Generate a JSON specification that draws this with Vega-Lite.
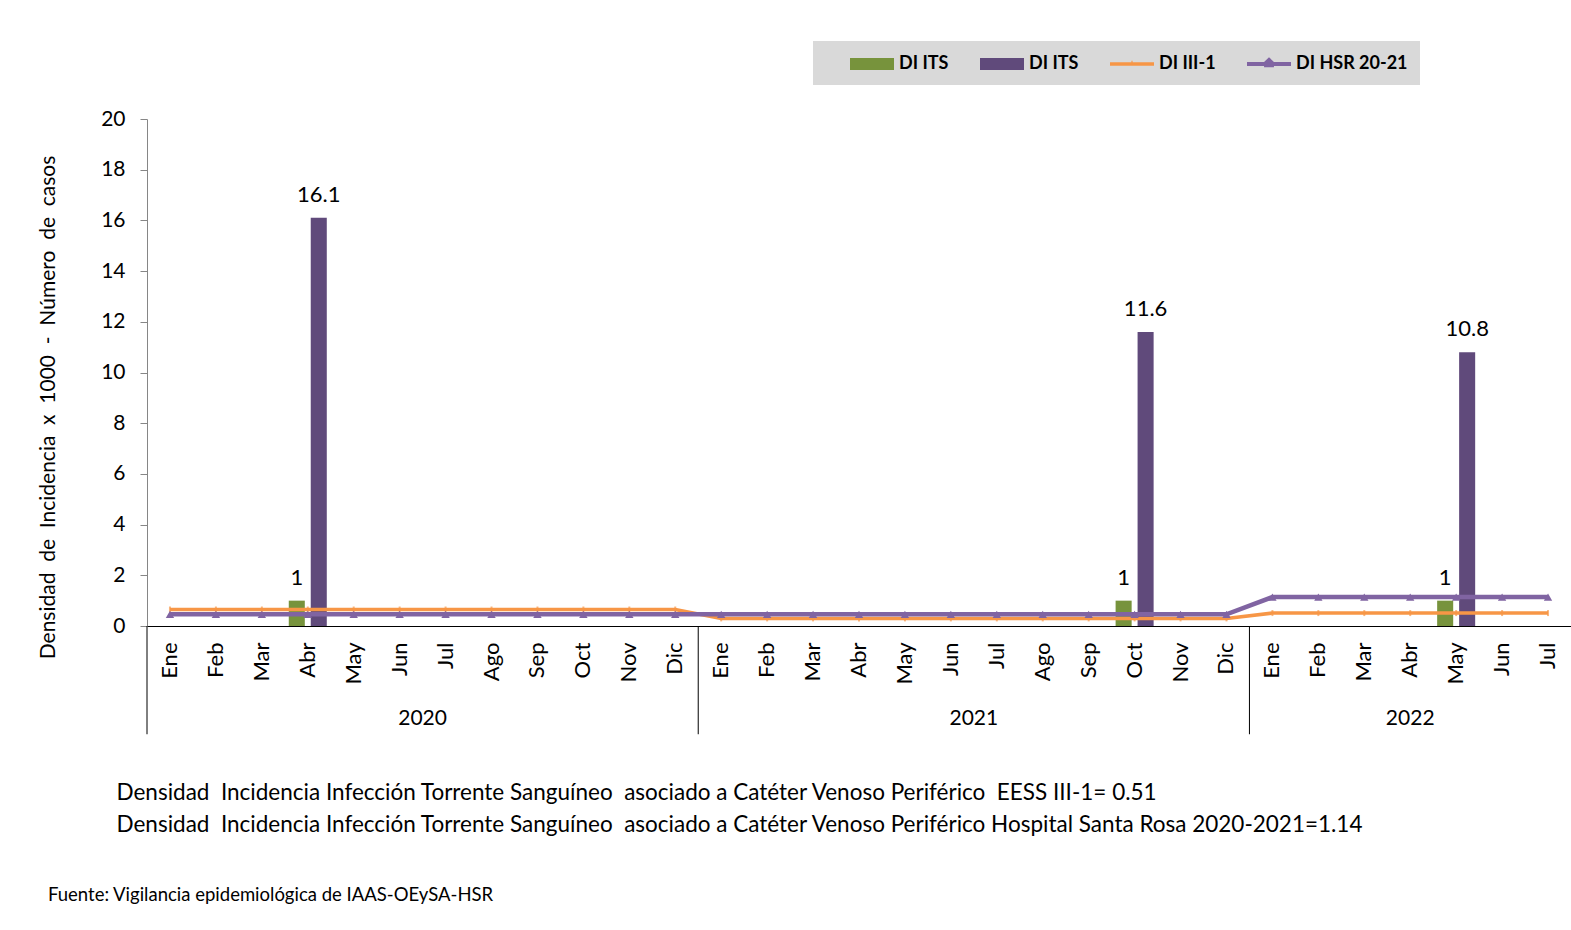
{
  "$schema": "https://vega.github.io/schema/vega-lite/v6.json",
  "width": 1424,
  "height": 507,
  "autosize": "none",
  "padding": {"left": 147, "top": 119, "right": 0, "bottom": 304},
  "background": "white",
  "config": {
    "font": "Lato",
    "view": {"stroke": null}
  },
  "datasets": {
    "meses": [
      {"periodo": "Ene 2020", "casos": null, "dits": null, "iii1": 0.65, "hsr": 0.46},
      {"periodo": "Feb 2020", "casos": null, "dits": null, "iii1": 0.65, "hsr": 0.46},
      {"periodo": "Mar 2020", "casos": null, "dits": null, "iii1": 0.65, "hsr": 0.46},
      {"periodo": "Abr 2020", "casos": 1, "dits": 16.1, "iii1": 0.65, "hsr": 0.46},
      {"periodo": "May 2020", "casos": null, "dits": null, "iii1": 0.65, "hsr": 0.46},
      {"periodo": "Jun 2020", "casos": null, "dits": null, "iii1": 0.65, "hsr": 0.46},
      {"periodo": "Jul 2020", "casos": null, "dits": null, "iii1": 0.65, "hsr": 0.46},
      {"periodo": "Ago 2020", "casos": null, "dits": null, "iii1": 0.65, "hsr": 0.46},
      {"periodo": "Sep 2020", "casos": null, "dits": null, "iii1": 0.65, "hsr": 0.46},
      {"periodo": "Oct 2020", "casos": null, "dits": null, "iii1": 0.65, "hsr": 0.46},
      {"periodo": "Nov 2020", "casos": null, "dits": null, "iii1": 0.65, "hsr": 0.46},
      {"periodo": "Dic 2020", "casos": null, "dits": null, "iii1": 0.65, "hsr": 0.46},
      {"periodo": "Ene 2021", "casos": null, "dits": null, "iii1": 0.3, "hsr": 0.46},
      {"periodo": "Feb 2021", "casos": null, "dits": null, "iii1": 0.3, "hsr": 0.46},
      {"periodo": "Mar 2021", "casos": null, "dits": null, "iii1": 0.3, "hsr": 0.46},
      {"periodo": "Abr 2021", "casos": null, "dits": null, "iii1": 0.3, "hsr": 0.46},
      {"periodo": "May 2021", "casos": null, "dits": null, "iii1": 0.3, "hsr": 0.46},
      {"periodo": "Jun 2021", "casos": null, "dits": null, "iii1": 0.3, "hsr": 0.46},
      {"periodo": "Jul 2021", "casos": null, "dits": null, "iii1": 0.3, "hsr": 0.46},
      {"periodo": "Ago 2021", "casos": null, "dits": null, "iii1": 0.3, "hsr": 0.46},
      {"periodo": "Sep 2021", "casos": null, "dits": null, "iii1": 0.3, "hsr": 0.46},
      {"periodo": "Oct 2021", "casos": 1, "dits": 11.6, "iii1": 0.3, "hsr": 0.46},
      {"periodo": "Nov 2021", "casos": null, "dits": null, "iii1": 0.3, "hsr": 0.46},
      {"periodo": "Dic 2021", "casos": null, "dits": null, "iii1": 0.3, "hsr": 0.46},
      {"periodo": "Ene 2022", "casos": null, "dits": null, "iii1": 0.51, "hsr": 1.14},
      {"periodo": "Feb 2022", "casos": null, "dits": null, "iii1": 0.51, "hsr": 1.14},
      {"periodo": "Mar 2022", "casos": null, "dits": null, "iii1": 0.51, "hsr": 1.14},
      {"periodo": "Abr 2022", "casos": null, "dits": null, "iii1": 0.51, "hsr": 1.14},
      {"periodo": "May 2022", "casos": 1, "dits": 10.8, "iii1": 0.51, "hsr": 1.14},
      {"periodo": "Jun 2022", "casos": null, "dits": null, "iii1": 0.51, "hsr": 1.14},
      {"periodo": "Jul 2022", "casos": null, "dits": null, "iii1": 0.51, "hsr": 1.14}
    ],
    "anios": [
      {"anio": "2020", "inicio": "Ene 2020", "medio": "Jul 2020"},
      {"anio": "2021", "inicio": "Ene 2021", "medio": "Jul 2021"},
      {"anio": "2022", "inicio": "Ene 2022", "medio": "Abr 2022"}
    ]
  },
  "layer": [
    {
      "data": {"name": "meses"},
      "transform": [
        {"fold": ["casos", "dits"], "as": ["serie", "valor"]},
        {"filter": "datum.valor != null"}
      ],
      "mark": {"type": "bar"},
      "encoding": {
        "x": {
          "field": "periodo", "type": "nominal", "sort": null,
          "scale": {
            "domain": ["Ene 2020", "Feb 2020", "Mar 2020", "Abr 2020", "May 2020", "Jun 2020", "Jul 2020", "Ago 2020", "Sep 2020", "Oct 2020", "Nov 2020", "Dic 2020",
                       "Ene 2021", "Feb 2021", "Mar 2021", "Abr 2021", "May 2021", "Jun 2021", "Jul 2021", "Ago 2021", "Sep 2021", "Oct 2021", "Nov 2021", "Dic 2021",
                       "Ene 2022", "Feb 2022", "Mar 2022", "Abr 2022", "May 2022", "Jun 2022", "Jul 2022"],
            "paddingInner": 0, "paddingOuter": 0
          },
          "axis": {
            "labelExpr": "split(datum.value, ' ')[0]",
            "labelAngle": -90, "labelFontSize": 22, "labelColor": "#000000",
            "labelPadding": 16, "ticks": false, "domainColor": "#000000", "domainWidth": 1,
            "title": ["Densidad \u00a0Incidencia Infección Torrente Sanguíneo \u00a0asociado a Catéter Venoso Periférico \u00a0EESS III-1= 0.51", "Densidad \u00a0Incidencia Infección Torrente Sanguíneo \u00a0asociado a Catéter Venoso Periférico Hospital Santa Rosa 2020-2021=1.14"],
            "titleX": -31, "titleY": 166, "titleAlign": "left", "titleBaseline": "middle",
            "titleFontSize": 22.5, "titleFontWeight": "normal", "titleColor": "#000000", "titleLineHeight": 32,
            "grid": false
          }
        },
        "xOffset": {
          "field": "serie", "type": "nominal",
          "scale": {"domain": ["casos", "dits"], "paddingInner": 0.27, "paddingOuter": 0.18}
        },
        "y": {
          "field": "valor", "type": "quantitative",
          "scale": {"domain": [0, 20], "nice": false, "zero": true},
          "axis": {
            "values": [0, 2, 4, 6, 8, 10, 12, 14, 16, 18, 20],
            "grid": false, "tickSize": 7, "tickColor": "#868686", "domainColor": "#868686",
            "labelFontSize": 21, "labelColor": "#000000", "labelPadding": 15,
            "title": "Densidad \u00a0de \u00a0Incidencia \u00a0x \u00a01000 \u00a0- \u00a0Número \u00a0de \u00a0casos",
            "titleFontSize": 21, "titleFontWeight": "normal", "titleColor": "#000000",
            "titleX": -99, "titleY": 288, "titleAngle": -90, "titleAlign": "center", "titleBaseline": "middle"
          }
        },
        "color": {
          "field": "serie", "type": "nominal",
          "scale": {
            "domain": ["casos", "dits", "iii1", "hsr"],
            "range": ["#77933c", "#604a7b", "#f79646", "#8064a2"]
          },
          "legend": {
            "orient": "none", "legendX": 666, "legendY": -78,
            "direction": "horizontal",
            "fillColor": "#d9d9d9", "padding": 12,
            "title": " ", "titleOrient": "left", "titlePadding": 25, "titleFontSize": 17,
            "columnPadding": 31,
            "symbolSize": 484,
            "labelOffset": 27,
            "labelFontSize": 18, "labelFontWeight": "bold", "labelColor": "#000000",
            "labelExpr": "datum.value == 'iii1' ? 'DI III-1' : datum.value == 'hsr' ? 'DI HSR 20-21' : 'DI ITS'",
            "encode": {
              "symbols": {
                "update": {
                  "shape": {"signal": "datum.value == 'hsr' ? 'M-1,-0.18H0.55L1,-0.62L1.45,-0.18H3V0.18H1.45V0.3H0.55V0.18H-1Z' : datum.value == 'iii1' ? 'M-1,-0.16H0.95V-0.3H1.05V-0.16H3V0.16H-1Z' : 'M-1,-0.55H3V0.55H-1Z'"},
                  "fill": {"scale": "color", "field": "value"},
                  "stroke": {"value": "transparent"},
                  "strokeWidth": {"value": 0},
                  "opacity": {"value": 1}
                }
              }
            }
          }
        }
      }
    },
    {
      "data": {"name": "meses"},
      "transform": [
        {"fold": ["iii1", "hsr"], "as": ["serie", "valor"]},
        {"filter": "datum.serie == 'iii1'"}
      ],
      "mark": {"type": "line", "strokeWidth": 3.5},
      "encoding": {
        "x": {"field": "periodo", "type": "nominal", "sort": null},
        "y": {"field": "valor", "type": "quantitative"},
        "color": {"field": "serie", "type": "nominal"}
      }
    },
    {
      "data": {"name": "meses"},
      "transform": [
        {"fold": ["iii1", "hsr"], "as": ["serie", "valor"]},
        {"filter": "datum.serie == 'iii1'"}
      ],
      "mark": {"type": "tick", "orient": "vertical", "size": 6, "thickness": 2},
      "encoding": {
        "x": {"field": "periodo", "type": "nominal", "sort": null, "bandPosition": 0.5},
        "y": {"field": "valor", "type": "quantitative"},
        "color": {"field": "serie", "type": "nominal"}
      }
    },
    {
      "data": {"name": "meses"},
      "transform": [
        {"fold": ["iii1", "hsr"], "as": ["serie", "valor"]},
        {"filter": "datum.serie == 'hsr'"}
      ],
      "mark": {"type": "line", "strokeWidth": 4.5},
      "encoding": {
        "x": {"field": "periodo", "type": "nominal", "sort": null},
        "y": {"field": "valor", "type": "quantitative"},
        "color": {"field": "serie", "type": "nominal"}
      }
    },
    {
      "data": {"name": "meses"},
      "transform": [
        {"fold": ["iii1", "hsr"], "as": ["serie", "valor"]},
        {"filter": "datum.serie == 'hsr'"}
      ],
      "mark": {"type": "point", "shape": "triangle-up", "filled": true, "size": 70, "opacity": 1},
      "encoding": {
        "x": {"field": "periodo", "type": "nominal", "sort": null},
        "y": {"field": "valor", "type": "quantitative"},
        "color": {"field": "serie", "type": "nominal"}
      }
    },
    {
      "data": {"name": "meses"},
      "transform": [
        {"fold": ["casos", "dits"], "as": ["serie", "valor"]},
        {"filter": "datum.valor != null"}
      ],
      "mark": {"type": "text", "baseline": "bottom", "dy": -11, "fontSize": 22, "color": "#000000"},
      "encoding": {
        "x": {"field": "periodo", "type": "nominal", "sort": null},
        "xOffset": {"field": "serie", "type": "nominal"},
        "y": {"field": "valor", "type": "quantitative"},
        "text": {"field": "valor", "type": "quantitative"}
      }
    },
    {
      "data": {"name": "anios"},
      "mark": {"type": "rule", "color": "#000000", "strokeWidth": 1},
      "encoding": {
        "x": {"field": "inicio", "type": "nominal", "sort": null, "bandPosition": 0},
        "y": {"datum": 0},
        "y2": {"datum": -4.27}
      }
    },
    {
      "data": {"name": "anios"},
      "transform": [{"filter": "datum.anio != '2022'"}],
      "mark": {"type": "text", "baseline": "middle", "fontSize": 21, "color": "#000000"},
      "encoding": {
        "x": {"field": "medio", "type": "nominal", "sort": null, "bandPosition": 0},
        "y": {"datum": -3.67},
        "text": {"field": "anio"}
      }
    },
    {
      "data": {"name": "anios"},
      "transform": [{"filter": "datum.anio == '2022'"}],
      "mark": {"type": "text", "baseline": "middle", "fontSize": 21, "color": "#000000"},
      "encoding": {
        "x": {"field": "medio", "type": "nominal", "sort": null, "bandPosition": 0.5},
        "y": {"datum": -3.67},
        "text": {"field": "anio"}
      }
    }
  ],
  "title": {
    "text": "Fuente: Vigilancia epidemiológica de IAAS-OEySA-HSR",
    "orient": "bottom", "anchor": "start", "frame": "group",
    "dx": -99, "offset": 50,
    "fontSize": 18.5, "fontWeight": "normal", "color": "#000000"
  }
}
